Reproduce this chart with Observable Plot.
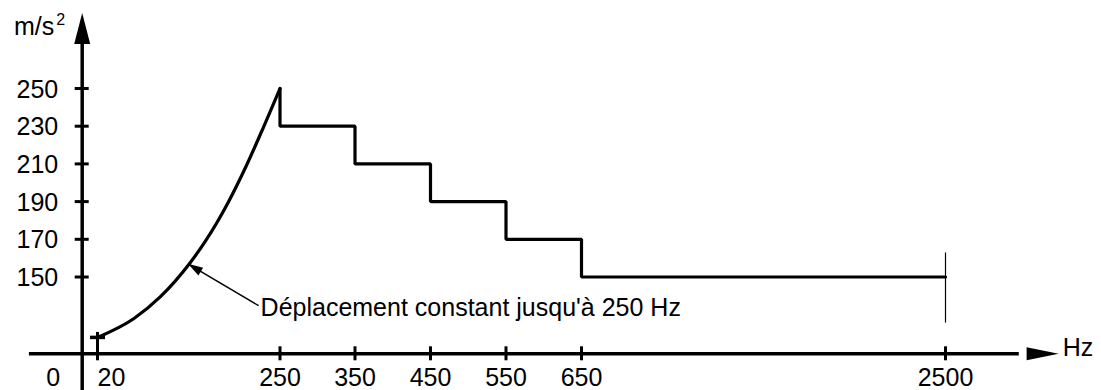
<!DOCTYPE html>
<html>
<head>
<meta charset="utf-8">
<script src="https://cdn.jsdelivr.net/npm/d3@7"></script>
<script src="https://cdn.jsdelivr.net/npm/@observablehq/plot@0.6"></script>
<style>
  html, body { margin: 0; padding: 0; background: white; }
  #chart { width: 1101px; height: 390px; overflow: hidden; }
</style>
</head>
<body>
<div id="chart"></div>
<script>
// ---- data ----
const xTicks = [20, 250, 350, 450, 550, 650, 2500];
const xTickLabels = ["20", "250", "350", "450", "550", "650", "2500"];
const yTicks = [150, 170, 190, 210, 230, 250];
const yTickLabels = ["150", "170", "190", "210", "230", "250"];

// constant-displacement curve, 20 Hz -> 250 Hz (schematic)
const curveHz  = [20, 66, 99, 137, 156, 185, 208, 229, 250];
const curveAcc = [32, 69, 111, 157.7, 169, 189.8, 209.4, 229.3, 250];

// stepped profile
const stepHz  = [250, 250, 350, 450, 550, 650, 2500];
const stepAcc = [250, 230, 210, 190, 170, 150, 150];

const xUnit = "Hz";
const yUnit = "m/s";
const yUnitExp = "2";
const originLabel = "0";
const endFreq = 2500;
const endLevel = 150;

const noteText = "Déplacement constant jusqu'à 250 Hz";
const noteTipHz = 134, noteTipAcc = 157;
const noteTailHz = 223, noteTailAcc = 94;

// broken (piecewise) axes, as drawn in the reference
const xDomain = [0, 20, 250, 350, 450, 550, 650, 2500];
const xRange  = [81.7, 97, 279.5, 354.5, 430, 505.5, 581, 945];
const yDomain = [0, 150, 250];
const yRange  = [353.3, 276.5, 88];
const xAxisFrom = -69, xAxisTo = 3075;
const yAxisFrom = -75, yAxisTo = 290;

// ---- build ----
const curve = curveHz.map((f, i) => ({f, a: curveAcc[i]}));
const steps = stepHz.map((f, i) => ({f, a: stepAcc[i]}));
const xt = xTicks.map((f, i) => ({f, label: xTickLabels[i]}));
const yt = yTicks.map((a, i) => ({a, label: yTickLabels[i]}));

const arrowRight = {draw(ctx) { ctx.moveTo(0, 0); ctx.lineTo(-32, -6.5); ctx.lineTo(-32, 6.5); ctx.closePath(); }};
const arrowUp = {draw(ctx) { ctx.moveTo(0, 0); ctx.lineTo(-8, 31); ctx.lineTo(8, 31); ctx.closePath(); }};
const arrowSmall = {draw(ctx) { ctx.moveTo(0, 0); ctx.lineTo(-15, -4.5); ctx.lineTo(-15, 4.5); ctx.closePath(); }};

const font = "'Liberation Sans', Arial, Helvetica, sans-serif";
const fs = 25;

const chart = Plot.plot({
  width: 1101,
  height: 390,
  marginTop: 0, marginRight: 0, marginBottom: 0, marginLeft: 0,
  style: {background: "white", fontFamily: font, fontSize: fs + "px", color: "black", overflow: "visible"},
  x: {type: "linear", domain: xDomain, range: xRange, axis: null},
  y: {type: "linear", domain: yDomain, range: yRange, axis: null},
  marks: [
    // axes lines
    Plot.ruleY([0], {x1: xAxisFrom, x2: xAxisTo - 200, stroke: "black", strokeWidth: 3.5}),
    Plot.ruleX([0], {y1: yAxisTo - 10, y2: yAxisFrom, stroke: "black", strokeWidth: 3.5}),
    Plot.dot([0], {x: xAxisTo, y: 0, symbol: arrowRight, fill: "black", stroke: "none", r: 10}),
    Plot.dot([0], {x: 0, y: yAxisTo, symbol: arrowUp, fill: "black", stroke: "none", r: 10}),
    // ticks
    Plot.ruleX(xt.filter(d => d.f !== 20), {x: "f", y1: 0, y2: 0, insetTop: -7, insetBottom: -7, stroke: "black", strokeWidth: 3}),
    Plot.ruleX(xt.filter(d => d.f === 20), {x: "f", y1: curveAcc[0], y2: 0, insetTop: -5, insetBottom: -7, stroke: "black", strokeWidth: 3}),
    Plot.ruleY([curveAcc[0]], {y: d => d, x1: curveHz[0], x2: curveHz[0], insetLeft: -7, insetRight: -8, stroke: "black", strokeWidth: 3.5}),
    Plot.ruleY(yt, {y: "a", x1: 0, x2: 0, insetLeft: -7, insetRight: -7, stroke: "black", strokeWidth: 3}),
    // tick labels
    Plot.text(yt, {x: 0, y: "a", text: "label", textAnchor: "end", dx: -24, dy: 1, fontSize: fs, fill: "black"}),
    Plot.text(xt.filter(d => d.f !== 20), {x: "f", y: 0, text: "label", textAnchor: "middle", dy: 24, fontSize: fs, fill: "black"}),
    Plot.text(xt.filter(d => d.f === 20), {x: "f", y: 0, text: "label", textAnchor: "start", dx: 0, dy: 24, fontSize: fs, fill: "black"}),
    Plot.text([originLabel], {x: 0, y: 0, text: d => d, textAnchor: "middle", dx: -29, dy: 24, fontSize: fs, fill: "black"}),
    // unit labels
    Plot.text([xUnit], {x: xAxisTo, y: 0, text: d => d, textAnchor: "start", dx: 4, dy: -6, fontSize: fs, fill: "black"}),
    Plot.text([yUnit], {x: 0, y: yAxisTo, text: d => d, textAnchor: "end", lineAnchor: "bottom", dx: -28, dy: 22, fontSize: fs, fill: "black"}),
    Plot.text([yUnitExp], {x: 0, y: yAxisTo, text: d => d, textAnchor: "start", lineAnchor: "bottom", dx: -26, dy: 12, fontSize: 16, fill: "black"}),
    // data
    Plot.line(curve, {x: "f", y: "a", curve: "monotone-x", stroke: "black", strokeWidth: 3.2}),
    Plot.line(steps, {x: "f", y: "a", curve: "step-after", stroke: "black", strokeWidth: 3.2, strokeLinejoin: "miter"}),
    Plot.ruleX([endFreq], {x: d => d, y1: endLevel, y2: endLevel, insetTop: -24, insetBottom: -46, stroke: "black", strokeWidth: 1.2}),
    // annotation
    Plot.link([0], {x1: noteTailHz, y1: noteTailAcc, x2: noteTipHz, y2: noteTipAcc, stroke: "black", strokeWidth: 1.4}),
    Plot.dot([0], {x: noteTipHz, y: noteTipAcc, symbol: arrowSmall, rotate: 211.3, fill: "black", stroke: "none", r: 6}),
    Plot.text([noteText], {x: noteTailHz, y: noteTailAcc, text: d => d, textAnchor: "start", dx: 2, dy: 2, fontSize: fs, fill: "black"})
  ]
});
document.getElementById("chart").appendChild(chart);
</script>
</body>
</html>
